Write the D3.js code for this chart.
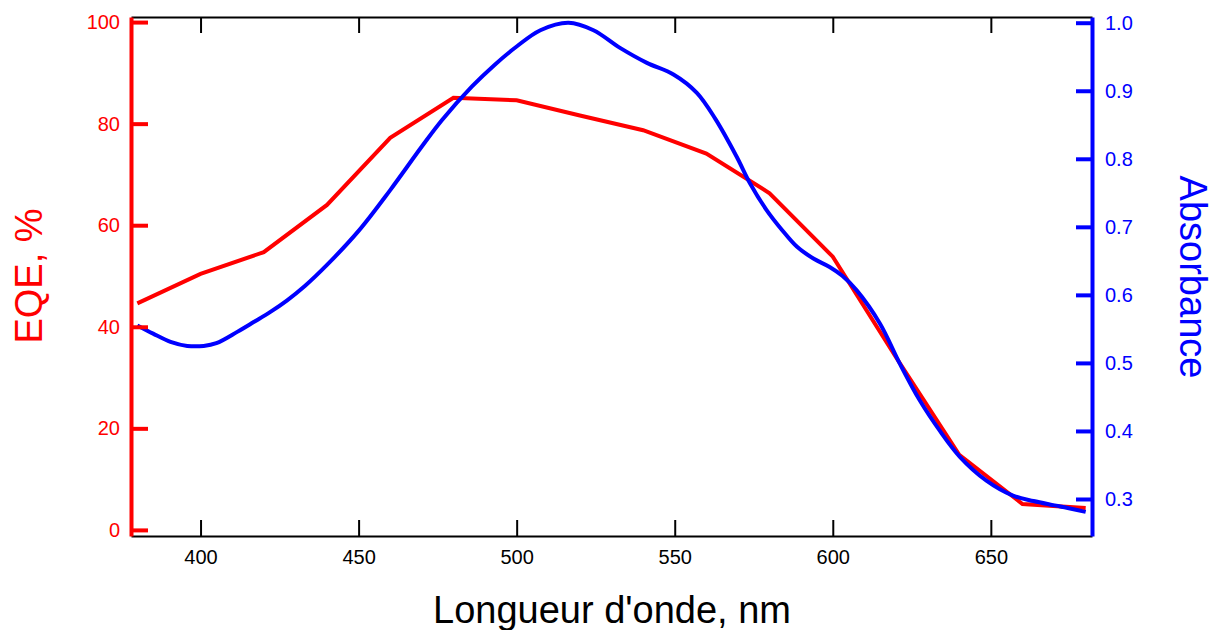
<!DOCTYPE html>
<html>
<head>
<meta charset="utf-8">
<script src="https://cdn.jsdelivr.net/npm/d3@7"></script>
<style>
  html, body { margin: 0; padding: 0; background: #fff; }
  svg { display: block; }
  text { font-family: "Liberation Sans", Arial, Helvetica, sans-serif; }
</style>
</head>
<body>
<svg id="chart" width="1213" height="630"></svg>
<script>
// ---- Data ----
const eqeWavelengths = [380, 400, 420, 440, 460, 480, 500, 520, 540, 560, 580, 600, 620, 640, 660, 680];
const eqeValues      = [44.6, 50.4, 54.7, 64.0, 77.2, 85.1, 84.6, 81.6, 78.7, 74.1, 66.3, 53.8, 34.0, 14.8, 5.1, 4.3];

const absWavelengths = [380, 385, 390.5, 395.8, 401, 405, 411.6, 416.8, 422.1, 427.4, 433, 440, 450, 460, 470, 476.4, 485.8, 493, 500, 507.5, 516.4, 524.3, 532.7, 541.2, 549.6, 557, 562.8, 569.6, 573.8, 579, 584, 588.6, 594, 599, 603, 607.5, 614.9, 621.2, 627.5, 633.9, 640.2, 648.6, 657, 663.5, 668.6, 672, 680];
const absValues      = [0.555, 0.543, 0.531, 0.525, 0.525, 0.529, 0.5456, 0.560, 0.575, 0.592, 0.613, 0.644, 0.694, 0.754, 0.818, 0.857, 0.906, 0.938, 0.965, 0.989, 1.000, 0.989, 0.963, 0.941, 0.924, 0.897, 0.859, 0.803, 0.764, 0.725, 0.695, 0.671, 0.653, 0.641, 0.628, 0.607, 0.558, 0.499, 0.445, 0.400, 0.362, 0.327, 0.305, 0.297, 0.292, 0.289, 0.281];

const xTicks = [400, 450, 500, 550, 600, 650];
const eqeTicks = [0, 20, 40, 60, 80, 100];
const absTicks = [0.3, 0.4, 0.5, 0.6, 0.7, 0.8, 0.9, 1.0];

const xTitle = "Longueur d'onde, nm";
const yLeftTitle = "EQE, %";
const yRightTitle = "Absorbance";

// ---- Layout ----
const plotLeft = 131, plotRight = 1092, plotTop = 17, plotBottom = 536;
const RED = "#ff0000", BLUE = "#0000ff";

const svg = d3.select("#chart");

const x = d3.scaleLinear().domain([378, 682]).range([plotLeft, plotRight]);
const yL = d3.scaleLinear().domain([-1.2, 101]).range([plotBottom, plotTop]);
const yR = d3.scaleLinear().domain([0.2456, 1.0084]).range([plotBottom, plotTop]);

function styleAxis(g, color, width, fontSize) {
  g.attr("font-family", null).attr("font-size", null);
  g.select(".domain").attr("stroke", color).attr("stroke-width", width);
  g.selectAll(".tick line").attr("stroke", color).attr("stroke-width", width);
  g.selectAll(".tick text").attr("fill", color)
    .style("font-size", fontSize + "px")
    .style("font-family", '"Liberation Sans", Arial, Helvetica, sans-serif');
}

// Top axis (ticks only)
const gTop = svg.append("g").attr("transform", `translate(0,${plotTop})`)
  .call(d3.axisTop(x).tickValues(xTicks).tickSize(-16).tickSizeOuter(0).tickFormat(""));
styleAxis(gTop, "#000", 2, 20);

// Bottom axis
const gBottom = svg.append("g").attr("transform", `translate(0,${plotBottom})`)
  .call(d3.axisBottom(x).tickValues(xTicks).tickSize(-16).tickSizeOuter(0).tickPadding(14));
styleAxis(gBottom, "#000", 2, 20);

// Curves
const eqeData = eqeWavelengths.map((w, i) => [w, eqeValues[i]]);
const absData = absWavelengths.map((w, i) => [w, absValues[i]]);

svg.append("path")
  .datum(eqeData)
  .attr("fill", "none")
  .attr("stroke", RED)
  .attr("stroke-width", 4)
  .attr("d", d3.line().x(d => x(d[0])).y(d => yL(d[1])));

svg.append("path")
  .datum(absData)
  .attr("fill", "none")
  .attr("stroke", BLUE)
  .attr("stroke-width", 4)
  .attr("stroke-linejoin", "round")
  .attr("d", d3.line().curve(d3.curveCatmullRom.alpha(0.5)).x(d => x(d[0])).y(d => yR(d[1])));

// Left axis (EQE)
const gLeft = svg.append("g").attr("transform", `translate(${plotLeft},0)`)
  .call(d3.axisLeft(yL).tickValues(eqeTicks).tickSize(-17).tickSizeOuter(0).tickPadding(11));
styleAxis(gLeft, RED, 4, 20);

// Right axis (Absorbance)
const gRight = svg.append("g").attr("transform", `translate(${plotRight},0)`)
  .call(d3.axisRight(yR).tickValues(absTicks).tickFormat(d3.format(".1f")).tickSize(-16).tickSizeOuter(0).tickPadding(13));
styleAxis(gRight, BLUE, 4, 20);

// Titles
svg.append("text")
  .attr("transform", "translate(42,276) rotate(-90)")
  .attr("text-anchor", "middle")
  .attr("fill", RED)
  .style("font-size", "38px")
  .text(yLeftTitle);

svg.append("text")
  .attr("transform", "translate(1180,277) rotate(90)")
  .attr("text-anchor", "middle")
  .attr("fill", BLUE)
  .style("font-size", "38px")
  .text(yRightTitle);

svg.append("text")
  .attr("x", 612)
  .attr("y", 623)
  .attr("text-anchor", "middle")
  .attr("fill", "#000")
  .style("font-size", "38px")
  .text(xTitle);
</script>
</body>
</html>
